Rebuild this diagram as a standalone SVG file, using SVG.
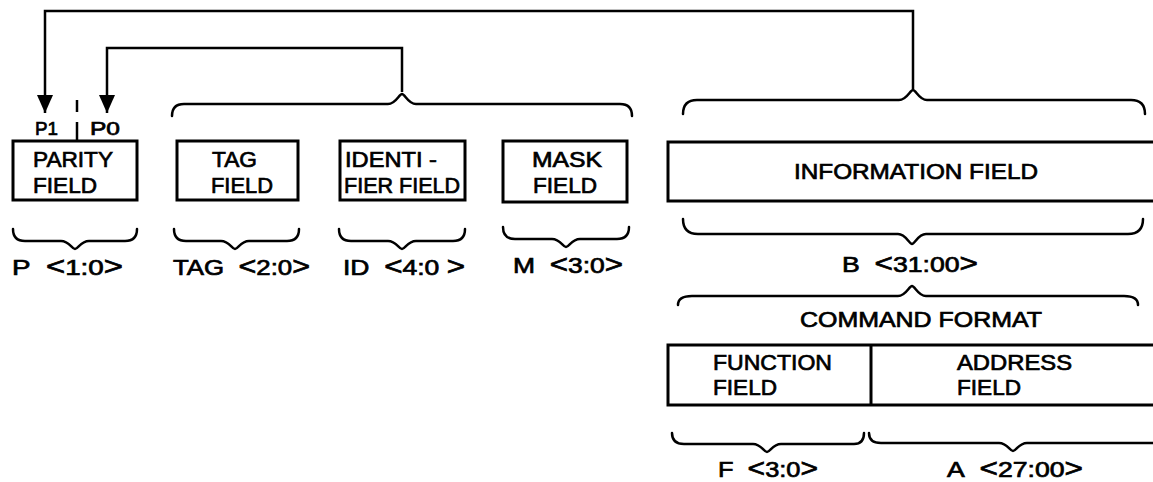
<svg xmlns="http://www.w3.org/2000/svg" width="1153" height="482" viewBox="0 0 1153 482">
<style>
  .box { fill: #fff; stroke: #000; stroke-width: 3; }
  .ln { fill: none; stroke: #000; stroke-width: 2.5; stroke-linejoin: miter; }
  .br { fill: none; stroke: #000; stroke-width: 2.5; stroke-linecap: round; }
  text { font-family: "Liberation Sans", Arial, sans-serif; font-size: 22px; fill: #000; stroke: #000; stroke-width: 0.7; }
  .sm { font-size: 19px; }
  .ang { font-size: 26px; }
</style>
<defs>
  <marker id="arr" viewBox="0 0 18 16" refX="18" refY="8" markerWidth="18" markerHeight="16" markerUnits="userSpaceOnUse" orient="auto">
    <path d="M0,0 L18,8 L0,16 z" fill="#000"/>
  </marker>
</defs>
<rect width="1153" height="482" fill="#fff"/>

<g id="connectors">
  <path class="ln" d="M913,89 L913,11 L45,11 L45,113" marker-end="url(#arr)"/>
  <path class="ln" d="M402,92 L402,48 L107,48 L107,113" marker-end="url(#arr)"/>
</g>

<g id="braces">
  <path class="br" d="M172,116 Q172,104 184,104 L388,104 C396,104 399,94 402,94 C405,94 408,104 416,104 L620,104 Q632,104 632,116"/>
  <path class="br" d="M683,114 Q683,100 697,100 L899,100 C907,100 910,90 913,90 C916,90 919,100 927,100 L1131,100 Q1145,100 1145,114"/>
  <path class="br" d="M13,229 Q13,241 25,241 L61,241 C69,241 72,249 75,249 C78,249 81,241 89,241 L125,241 Q137,241 137,229"/>
  <path class="br" d="M174,229 Q174,241 186,241 L221,241 C229,241 232,249 235,249 C238,249 241,241 249,241 L287,241 Q299,241 299,229"/>
  <path class="br" d="M339,229 Q339,241 351,241 L388,241 C396,241 399,249 402,249 C405,249 408,241 416,241 L453,241 Q465,241 465,229"/>
  <path class="br" d="M503,227 Q503,239 515,239 L552,239 C560,239 563,247 566,247 C569,247 572,239 580,239 L617,239 Q629,239 629,227"/>
  <path class="br" d="M683,219 Q683,234 698,234 L898,234 C906,234 909,244 912,244 C915,244 918,234 926,234 L1128,234 Q1143,234 1143,219"/>
  <path class="br" d="M678,305 Q678,296 692,296 L898,296 C906,296 909,286 912,286 C915,286 918,296 926,296 L1124,296 Q1138,296 1138,305"/>
  <path class="br" d="M672,433 Q672,444 684,444 L753,444 C761,444 764,452 767,452 C770,452 773,444 781,444 L854,444 Q864,444 864,433"/>
  <path class="br" d="M869,433 Q869,443 881,443 L999,443 C1007,443 1010,451 1013,451 C1016,451 1019,443 1027,443 L1160,443"/>
</g>

<g id="parity">
  <rect class="box" x="13" y="141" width="124" height="59"/>
  <line class="ln" x1="77" y1="100" x2="77" y2="112" stroke-width="2"/>
  <line class="ln" x1="77" y1="122" x2="77" y2="141" stroke-width="2"/>
  <text class="sm" x="35" y="135" textLength="23" lengthAdjust="spacingAndGlyphs">P1</text>
  <text class="sm" x="90" y="135" textLength="30" lengthAdjust="spacingAndGlyphs">P0</text>
  <text x="33" y="167" textLength="80" lengthAdjust="spacingAndGlyphs">PARITY</text>
  <text x="33" y="193" textLength="64" lengthAdjust="spacingAndGlyphs">FIELD</text>
  <text x="12" y="275" textLength="111" lengthAdjust="spacingAndGlyphs">P&#160; <tspan class="ang">&lt;</tspan>1:0<tspan class="ang">&gt;</tspan></text>
</g>

<g id="tag">
  <rect class="box" x="177" y="141" width="121" height="59"/>
  <text x="212" y="167" textLength="45" lengthAdjust="spacingAndGlyphs">TAG</text>
  <text x="211" y="193" textLength="62" lengthAdjust="spacingAndGlyphs">FIELD</text>
  <text x="173" y="275" textLength="137" lengthAdjust="spacingAndGlyphs">TAG&#160; <tspan class="ang">&lt;</tspan>2:0<tspan class="ang">&gt;</tspan></text>
</g>

<g id="identifier">
  <rect class="box" x="340" y="141" width="125" height="59"/>
  <text x="345" y="167" textLength="92" lengthAdjust="spacingAndGlyphs">IDENTI -</text>
  <text x="344" y="193" textLength="116" lengthAdjust="spacingAndGlyphs">FIER FIELD</text>
  <text x="343" y="275" textLength="122" lengthAdjust="spacingAndGlyphs">ID&#160; <tspan class="ang">&lt;</tspan>4:0 <tspan class="ang">&gt;</tspan></text>
</g>

<g id="mask">
  <rect class="box" x="503" y="141" width="124" height="61"/>
  <text x="532" y="167" textLength="70" lengthAdjust="spacingAndGlyphs">MASK</text>
  <text x="533" y="193" textLength="64" lengthAdjust="spacingAndGlyphs">FIELD</text>
  <text x="513" y="273" textLength="110" lengthAdjust="spacingAndGlyphs">M&#160; <tspan class="ang">&lt;</tspan>3:0<tspan class="ang">&gt;</tspan></text>
</g>

<g id="information">
  <rect class="box" x="668" y="142" width="500" height="59"/>
  <text x="794" y="179" textLength="244" lengthAdjust="spacingAndGlyphs">INFORMATION FIELD</text>
  <text x="842" y="272" textLength="136" lengthAdjust="spacingAndGlyphs">B&#160; <tspan class="ang">&lt;</tspan>31:00<tspan class="ang">&gt;</tspan></text>
</g>

<g id="command">
  <text x="800" y="327" textLength="242" lengthAdjust="spacingAndGlyphs">COMMAND FORMAT</text>
  <rect class="box" x="668" y="345" width="500" height="60"/>
  <line class="box" x1="871" y1="345" x2="871" y2="405"/>
  <g id="function">
    <text x="713" y="370" textLength="119" lengthAdjust="spacingAndGlyphs">FUNCTION</text>
    <text x="713" y="395" textLength="64" lengthAdjust="spacingAndGlyphs">FIELD</text>
    <text x="718" y="477" textLength="100" lengthAdjust="spacingAndGlyphs">F&#160; <tspan class="ang">&lt;</tspan>3:0<tspan class="ang">&gt;</tspan></text>
  </g>
  <g id="address">
    <text x="957" y="370" textLength="115" lengthAdjust="spacingAndGlyphs">ADDRESS</text>
    <text x="957" y="395" textLength="64" lengthAdjust="spacingAndGlyphs">FIELD</text>
    <text x="947" y="477" textLength="136" lengthAdjust="spacingAndGlyphs">A&#160; <tspan class="ang">&lt;</tspan>27:00<tspan class="ang">&gt;</tspan></text>
  </g>
</g>
</svg>
